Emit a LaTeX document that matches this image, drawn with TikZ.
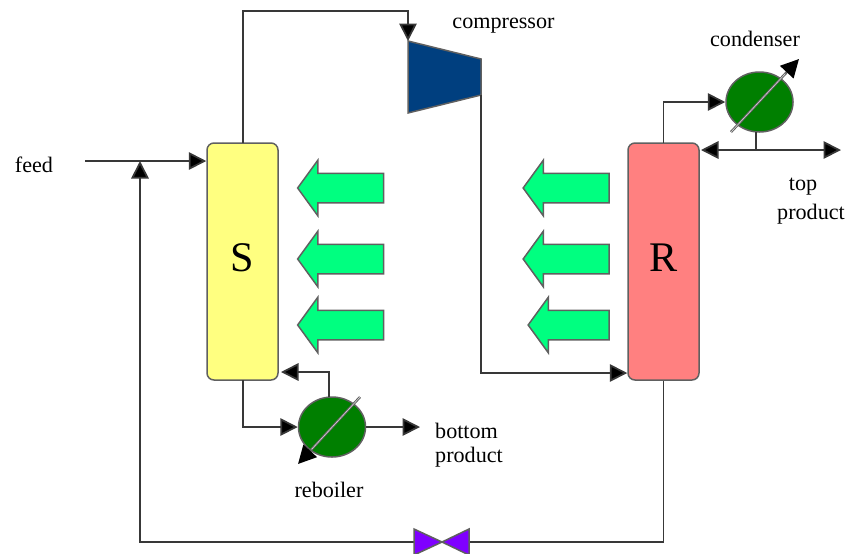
\documentclass[tikz,border=0pt]{standalone}
\usepackage{fontspec}
\setmainfont{Liberation Serif}
\usetikzlibrary{arrows.meta, shapes.geometric, shapes.arrows}

\definecolor{edgegray}{HTML}{606060}
\definecolor{linegray}{HTML}{383838}
\definecolor{columnyellow}{HTML}{FFFF80}
\definecolor{columnred}{HTML}{FF8080}
\definecolor{heatgreen}{HTML}{00FF80}
\definecolor{hxgreen}{HTML}{007F00}
\definecolor{compblue}{HTML}{003F7F}
\definecolor{valvepurple}{HTML}{7F00FF}

\begin{document}
\begin{tikzpicture}[x=0.2mm, y=-0.2mm]

\tikzset{columnbox/.style={draw=edgegray, line width=0.3mm, rectangle, rounded corners=1.4mm, minimum width=14.2mm, minimum height=47.4mm, inner sep=0pt, text depth=1.6mm, font=\fontsize{24}{28}\selectfont}}
\tikzset{heatarrow/.style={draw=edgegray, fill=heatgreen, line width=0.3mm, single arrow, shape border rotate=180, single arrow tip angle=108, single arrow head extend=2.6mm, minimum height=17.2mm, inner xsep=0pt, inner ysep=2.8mm}}
\tikzset{hxbody/.style={draw=edgegray, fill=hxgreen, line width=0.3mm, ellipse, minimum width=13.4mm, minimum height=12mm, inner sep=0pt}}
\tikzset{flowline/.style={draw=linegray, line width=0.35mm}}
\tikzset{flowarrow/.style={flowline, -{Triangle[length=3.5mm, width=3.5mm, fill=black]}}}
\tikzset{hxarrow/.style={draw=edgegray, line width=0.5mm, -{Triangle[length=3.6mm, width=3.6mm, fill=black, color=black]}}}
\tikzset{hxcore/.style={draw=white!75!edgegray, line width=0.12mm, shorten >=4mm}}
\tikzset{steelbody/.style={draw=edgegray, line width=0.3mm}}
\tikzset{textlabel/.style={font=\fontsize{12.6}{14.5}\selectfont, inner sep=0pt}}

\useasboundingbox (0, 0) rectangle (853, 553);

% columns
\node[columnbox, fill=columnyellow] at (242.5, 261.5) (stripper) {S};
\node[columnbox, fill=columnred] at (663.5, 261.5) (rectifier) {R};

% heat flow from R to S
\node[heatarrow] at (346, 188) (heatsa) {};
\node[heatarrow] at (346, 259) (heatsb) {};
\node[heatarrow] at (346, 325) (heatsc) {};
\node[heatarrow] at (571.5, 188) (heatra) {};
\node[heatarrow] at (571.5, 259) (heatrb) {};
\node[heatarrow, minimum height=16.2mm] at (574, 325) (heatrc) {};

% condenser, reboiler
\coordinate (condlow) at (731, 132);
\coordinate (condhigh) at (799, 59);
\coordinate (rebhigh) at (360, 397);
\coordinate (reblow) at (298, 464);
\node[hxbody] at (759.5, 102) (condenser) {};
\node[hxbody] at (332, 427) (reboiler) {};
\draw[hxarrow] (condlow) -- (condhigh);
\draw[hxarrow] (rebhigh) -- (reblow);
\draw[hxcore] (condlow) -- (condhigh);
\draw[hxcore] (rebhigh) -- (reblow);

% compressor
\coordinate (compnw) at (408, 41);
\coordinate (compne) at (481, 59);
\coordinate (compse) at (481, 95);
\coordinate (compsw) at (408, 113);
\draw[steelbody, fill=compblue] (compnw) -- (compne) -- (compse) -- (compsw) -- cycle;

% valve and free ends of the lines
\coordinate (valve) at (442, 542);
\coordinate (feedin) at (85, 161);
\coordinate (feedjoin) at (140, 161);
\coordinate (feedend) at (stripper.west |- feedin);
\coordinate (overhead) at (243, 143);
\coordinate (overtop) at (243, 11);
\coordinate (rectin) at (rectifier.west |- 0, 373);
\coordinate (condin) at (663.5, 143);
\coordinate (condtee) at (756, 150);
\coordinate (condtap) at (756, 132);
\coordinate (topleft) at (701, 150);
\coordinate (topright) at (841, 150);
\coordinate (stripbot) at (243, 380);
\coordinate (rebtop) at (329, 397);
\coordinate (rebback) at (281, 372);
\coordinate (botout) at (420, 427);

% interactions
\draw[flowarrow] (feedin) -- (feedend);
\draw[flowarrow] (rectifier.south) |- (valve) -| (feedjoin);
\draw[flowarrow] (overhead) |- (compnw |- overtop) -- (compnw);
\draw[flowarrow] (compse) |- (rectin);
\draw[flowarrow] (condin) |- (condenser.west);
\draw[flowline] (condtap) -- (condtee);
\draw[flowline, {Triangle[length=3.5mm, width=3.5mm, fill=black]}-{Triangle[length=3.5mm, width=3.5mm, fill=black]}] (topleft) -- (topright);
\draw[flowarrow] (stripbot) |- (reboiler.west);
\draw[flowarrow] (rebtop) |- (rebback);
\draw[flowarrow] (reboiler.east) -- (botout);

% valve body
\draw[steelbody, fill=valvepurple] (valve) -- ++(-28, -13) -- ++(0, 26) -- cycle;
\draw[steelbody, fill=valvepurple] (valve) -- ++(27, -13) -- ++(0, 26) -- cycle;

% labels
\node[textlabel] at (34, 165) (feedlabel) {feed};
\node[textlabel] at (503.5, 26) (complabel) {compressor};
\node[textlabel] at (755, 39) (condlabel) {condenser};
\node[textlabel, align=center] at (811, 201) (toplabel) {top\hspace*{3.2mm}\\[2pt]product};
\node[textlabel, align=left] at (469, 445) (botlabel) {bottom\\[-1pt]product};
\node[textlabel] at (329, 490) (reblabel) {reboiler};

\end{tikzpicture}
\end{document}
